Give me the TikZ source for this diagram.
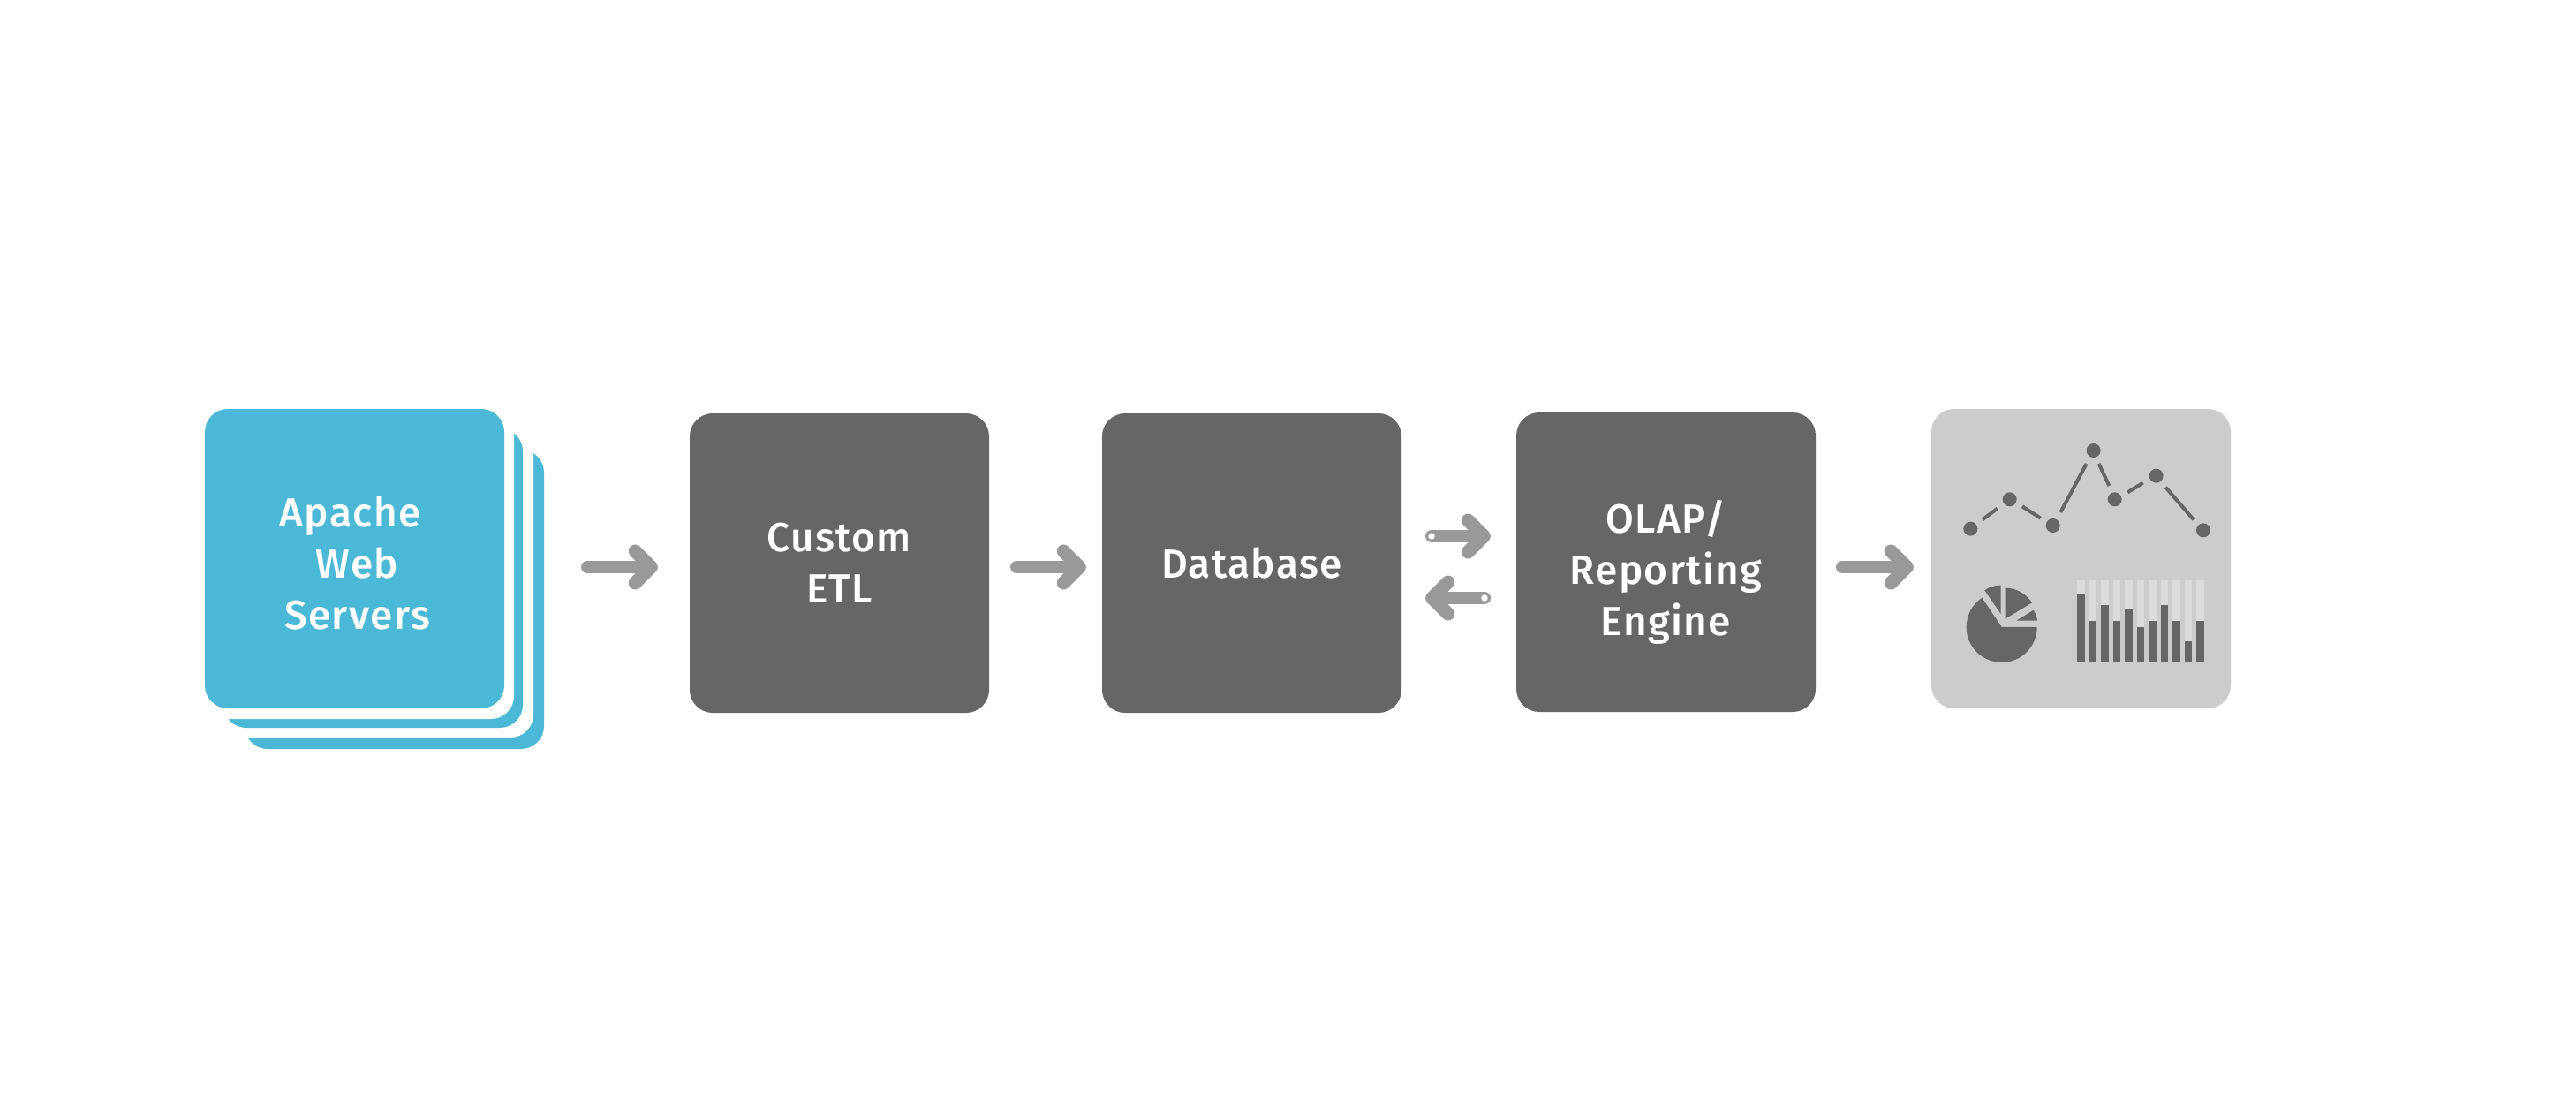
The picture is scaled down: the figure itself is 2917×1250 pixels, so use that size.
\documentclass[tikz,border=0pt]{standalone}
\usepackage{fontspec}
\setmainfont{Fira Sans}[UprightFont=* Medium,LetterSpace=3]
\usetikzlibrary{arrows.meta,calc}
\definecolor{blueC}{HTML}{4CB8D7}
\definecolor{darkC}{HTML}{666666}
\definecolor{lightC}{HTML}{CCCCCC}
\definecolor{paleC}{HTML}{DCDCDC}
\definecolor{arrC}{HTML}{999999}
\pgfdeclarearrow{
  name=BoldBarb,
  setup code={
    \pgfarrowssettipend{7.5pt}
    \pgfarrowssetlineend{0pt}
    \pgfarrowssetbackend{-25.5pt}
    \pgfarrowssetvisualbackend{-18pt}
  },
  drawing code={
    \pgfsetdash{}{0pt}
    \pgfsetroundcap
    \pgfsetroundjoin
    \pgfsetlinewidth{15pt}
    \pgfpathmoveto{\pgfqpoint{-18pt}{18pt}}
    \pgfpathlineto{\pgfqpoint{0pt}{0pt}}
    \pgfpathlineto{\pgfqpoint{-18pt}{-18pt}}
    \pgfusepathqstroke
  }
}
\tikzset{
  card/.style={rectangle,rounded corners=26pt,minimum width=339pt,minimum height=339pt,inner sep=0pt,fill=#1},
  lab/.style={text=white,align=center,inner sep=0pt,font=\fontsize{46}{58}\selectfont},
  arr/.style={draw=arrC,line width=14pt,line cap=round,-{BoldBarb}},
  hole/.style={circle,fill=white,minimum size=7.5pt,inner sep=0pt},
  dot/.style={circle,fill=darkC,minimum size=16pt,inner sep=0pt},
  seg/.style={draw=darkC,line width=4pt}
}
\newcommand{\barcol}[3]{%
  \fill[paleC] (#1,652) rectangle (#2,#3);
  \fill[darkC] (#1,#3) rectangle (#2,926);}
\begin{document}
\begin{tikzpicture}[x=1pt,y=-1pt]
\useasboundingbox (0,0) rectangle (2917,1250);
\fill[white] (0,0) rectangle (2917,1250);
\coordinate (c) at (401.5,632.5);
\node[card=blueC] (s3) at ($(c)+(45,46)$) {};
\node[card=white,minimum width=354pt,minimum height=355pt] (w3) at (427,657.5) {};
\node[card=blueC] (s2) at ($(c)+(21,22)$) {};
\node[card=white,minimum width=350pt,minimum height=351pt] (w2) at (407,638.5) {};
\node[card=blueC] (web) at (c) {};
\node[lab] (webL) at ($(web.center)+(3,5)$) {Apache\hspace*{16pt}\\Web\\Servers};
\node[card=darkC] (etl) at (950.5,637.5) {};
\node[lab] (etlL) at (etl.center) {Custom\\ETL};
\node[card=darkC] (db) at (1417.5,637.5) {};
\node[lab] (dbL) at (db.center) {Database};
\node[card=darkC] (olap) at (1886.5,636.5) {};
\node[lab] (olapL) at ($(olap.center)+(0,11)$) {OLAP/\\Reporting\\Engine};
\node[card=lightC] (dash) at (2356.5,632.5) {};
% connectors
\coordinate (a1s) at (665,642);
\draw[arr] (a1s) -- ([xshift=-36pt]etl.west |- a1s);
\coordinate (a2s) at (1151,642);
\draw[arr] (a2s) -- ([xshift=-18pt]db.west |- a2s);
\coordinate (a3s) at (2086,642);
\draw[arr] (a3s) -- ([xshift=-20pt]dash.west |- a3s);
\coordinate (h1) at (1621,607);
\draw[arr] (h1) -- ([xshift=-29pt]olap.west |- h1);
\node[hole] (h1n) at (h1) {};
\coordinate (h2) at (1681,677);
\draw[arr] (h2) -- ([xshift=27pt]db.east |- h2);
\node[hole] (h2n) at (h2) {};
% dashboard icons
\begin{scope}[shift={(2150,440)},x=0.3333pt,y=-0.3333pt]
  \foreach \n/\p in {d1/{244,476},d2/{377,376},d3/{524,465},d4/{662,210},d5/{734,376},d6/{875,296},d7/{1035,481}}
    \node[dot] (\n) at (\p) {};
  \draw[seg] (285,445)--(335,407);
  \draw[seg] (420,400)--(482,440);
  \draw[seg] (550,420)--(638,255);
  \draw[seg] (680,255)--(715,330);
  \draw[seg] (778,352)--(830,320);
  \draw[seg] (907,335)--(1002,445);
  % pie
  \fill[darkC] (350,810)--(470,810) arc[start angle=0,end angle=236.2,radius=120]--cycle;
  \fill[darkC] (347,765)--(292,685) .. controls (308,673) and (327,668) .. (347,668)--cycle;
  \fill[darkC] (362,782)--(362,677) .. controls (400,677) and (433,697) .. (453,727)--cycle;
  \fill[darkC] (400,788)--(458,752) .. controls (465,763) and (470,775) .. (471,788)--cycle;
  % bars
  \barcol{606}{633}{697}\barcol{648}{673}{790}\barcol{688}{713}{735}\barcol{729}{754}{790}
  \barcol{769}{794}{748}\barcol{809}{835}{811}\barcol{850}{875}{790}\barcol{890}{916}{735}
  \barcol{931}{956}{790}\barcol{971}{996}{858}\barcol{1011}{1037}{790}
\end{scope}
\end{tikzpicture}
\end{document}
